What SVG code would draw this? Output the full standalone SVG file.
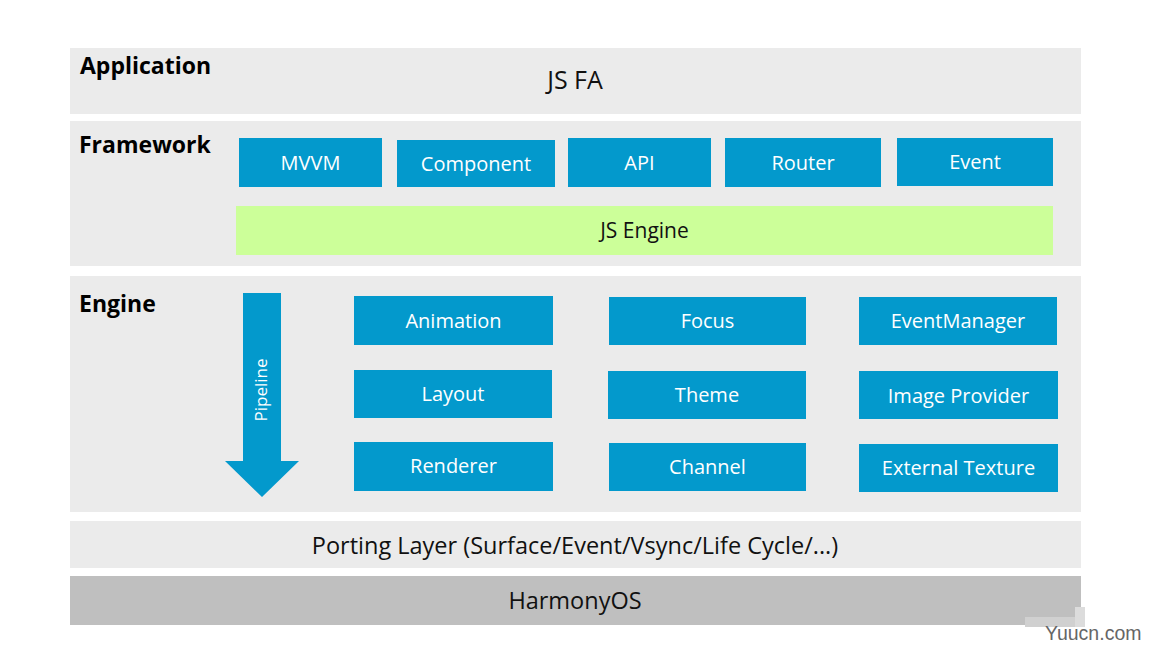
<svg xmlns="http://www.w3.org/2000/svg" width="1155" height="663" viewBox="0 0 1155 663">
<style>
.band{fill:#ebebeb}
.os{fill:#bfbfbf}
.box{fill:#0399cc}
.green{fill:#ccff99}
.t{font-family:"Open Sans","Noto Sans",sans-serif;font-size:20px;fill:#ffffff;text-anchor:middle}
.d{font-family:"Open Sans","Noto Sans",sans-serif;font-size:23.5px;fill:#111111;text-anchor:middle}
.h{font-family:"Open Sans","Noto Sans",sans-serif;font-size:23px;font-weight:bold;fill:#000000}
.wm{font-family:"Liberation Sans",Arial,sans-serif;font-size:19.5px;fill:#666666}
</style>
<rect width="1155" height="663" fill="#ffffff"/>
<g id="application">
<rect class="band" x="70" y="48" width="1011" height="66"/>
<text class="h" x="80" y="74">Application</text>
<text class="d" x="575" y="89" style="font-size:25px">JS FA</text>
</g>
<g id="framework">
<rect class="band" x="70" y="121" width="1011" height="145"/>
<text class="h" x="79" y="153">Framework</text>
</g>
<g id="mvvm"><rect class="box" x="239" y="138" width="143" height="49"/><text class="t" x="310.5" y="170">MVVM</text></g>
<g id="component"><rect class="box" x="397" y="140" width="158" height="47"/><text class="t" x="476" y="171">Component</text></g>
<g id="api"><rect class="box" x="568" y="138" width="143" height="49"/><text class="t" x="639.5" y="170">API</text></g>
<g id="router"><rect class="box" x="725" y="138" width="156" height="49"/><text class="t" x="803" y="170">Router</text></g>
<g id="event"><rect class="box" x="897" y="138" width="156" height="48"/><text class="t" x="975" y="169">Event</text></g>
<g id="jsengine"><rect class="green" x="236" y="206" width="817" height="49"/><text class="d" x="644.5" y="238" style="font-size:21px">JS Engine</text></g>
<g id="engine">
<rect class="band" x="70" y="276" width="1011" height="236"/>
<text class="h" x="79" y="312">Engine</text>
</g>
<g id="connectors">
<polygon class="box" points="243,293 281,293 281,461 299,461 262,497 225,461 243,461"/>
<text class="t" x="0" y="0" transform="translate(267,390) rotate(-90)" style="font-size:17px">Pipeline</text>
</g>
<g id="animation"><rect class="box" x="354" y="296" width="199" height="49"/><text class="t" x="453.5" y="328">Animation</text></g>
<g id="layout"><rect class="box" x="354" y="370" width="198" height="48"/><text class="t" x="453" y="401">Layout</text></g>
<g id="renderer"><rect class="box" x="354" y="442" width="199" height="49"/><text class="t" x="453.5" y="473">Renderer</text></g>
<g id="focus"><rect class="box" x="609" y="297" width="197" height="48"/><text class="t" x="707.5" y="328">Focus</text></g>
<g id="theme"><rect class="box" x="608" y="371" width="198" height="48"/><text class="t" x="707" y="402">Theme</text></g>
<g id="channel"><rect class="box" x="609" y="443" width="197" height="48"/><text class="t" x="707.5" y="474">Channel</text></g>
<g id="eventmanager"><rect class="box" x="859" y="297" width="198" height="48"/><text class="t" x="958" y="328">EventManager</text></g>
<g id="imageprovider"><rect class="box" x="859" y="371" width="199" height="48"/><text class="t" x="958.5" y="403">Image Provider</text></g>
<g id="externaltexture"><rect class="box" x="859" y="444" width="199" height="48"/><text class="t" x="958.5" y="475">External Texture</text></g>
<g id="porting">
<rect class="band" x="70" y="521" width="1011" height="47"/>
<text class="d" x="575" y="554">Porting Layer (Surface/Event/Vsync/Life Cycle/...)</text>
</g>
<g id="harmonyos">
<rect class="os" x="70" y="576" width="1011" height="49"/>
<text class="d" x="575" y="609">HarmonyOS</text>
</g>
<g id="watermark">
<rect x="1025" y="617" width="50" height="10" fill="#d0d0d0"/>
<rect x="1075" y="607" width="10" height="20" fill="#dcdcdc"/>
<text class="wm" x="1045" y="640">Yuucn.com</text>
</g>
</svg>
